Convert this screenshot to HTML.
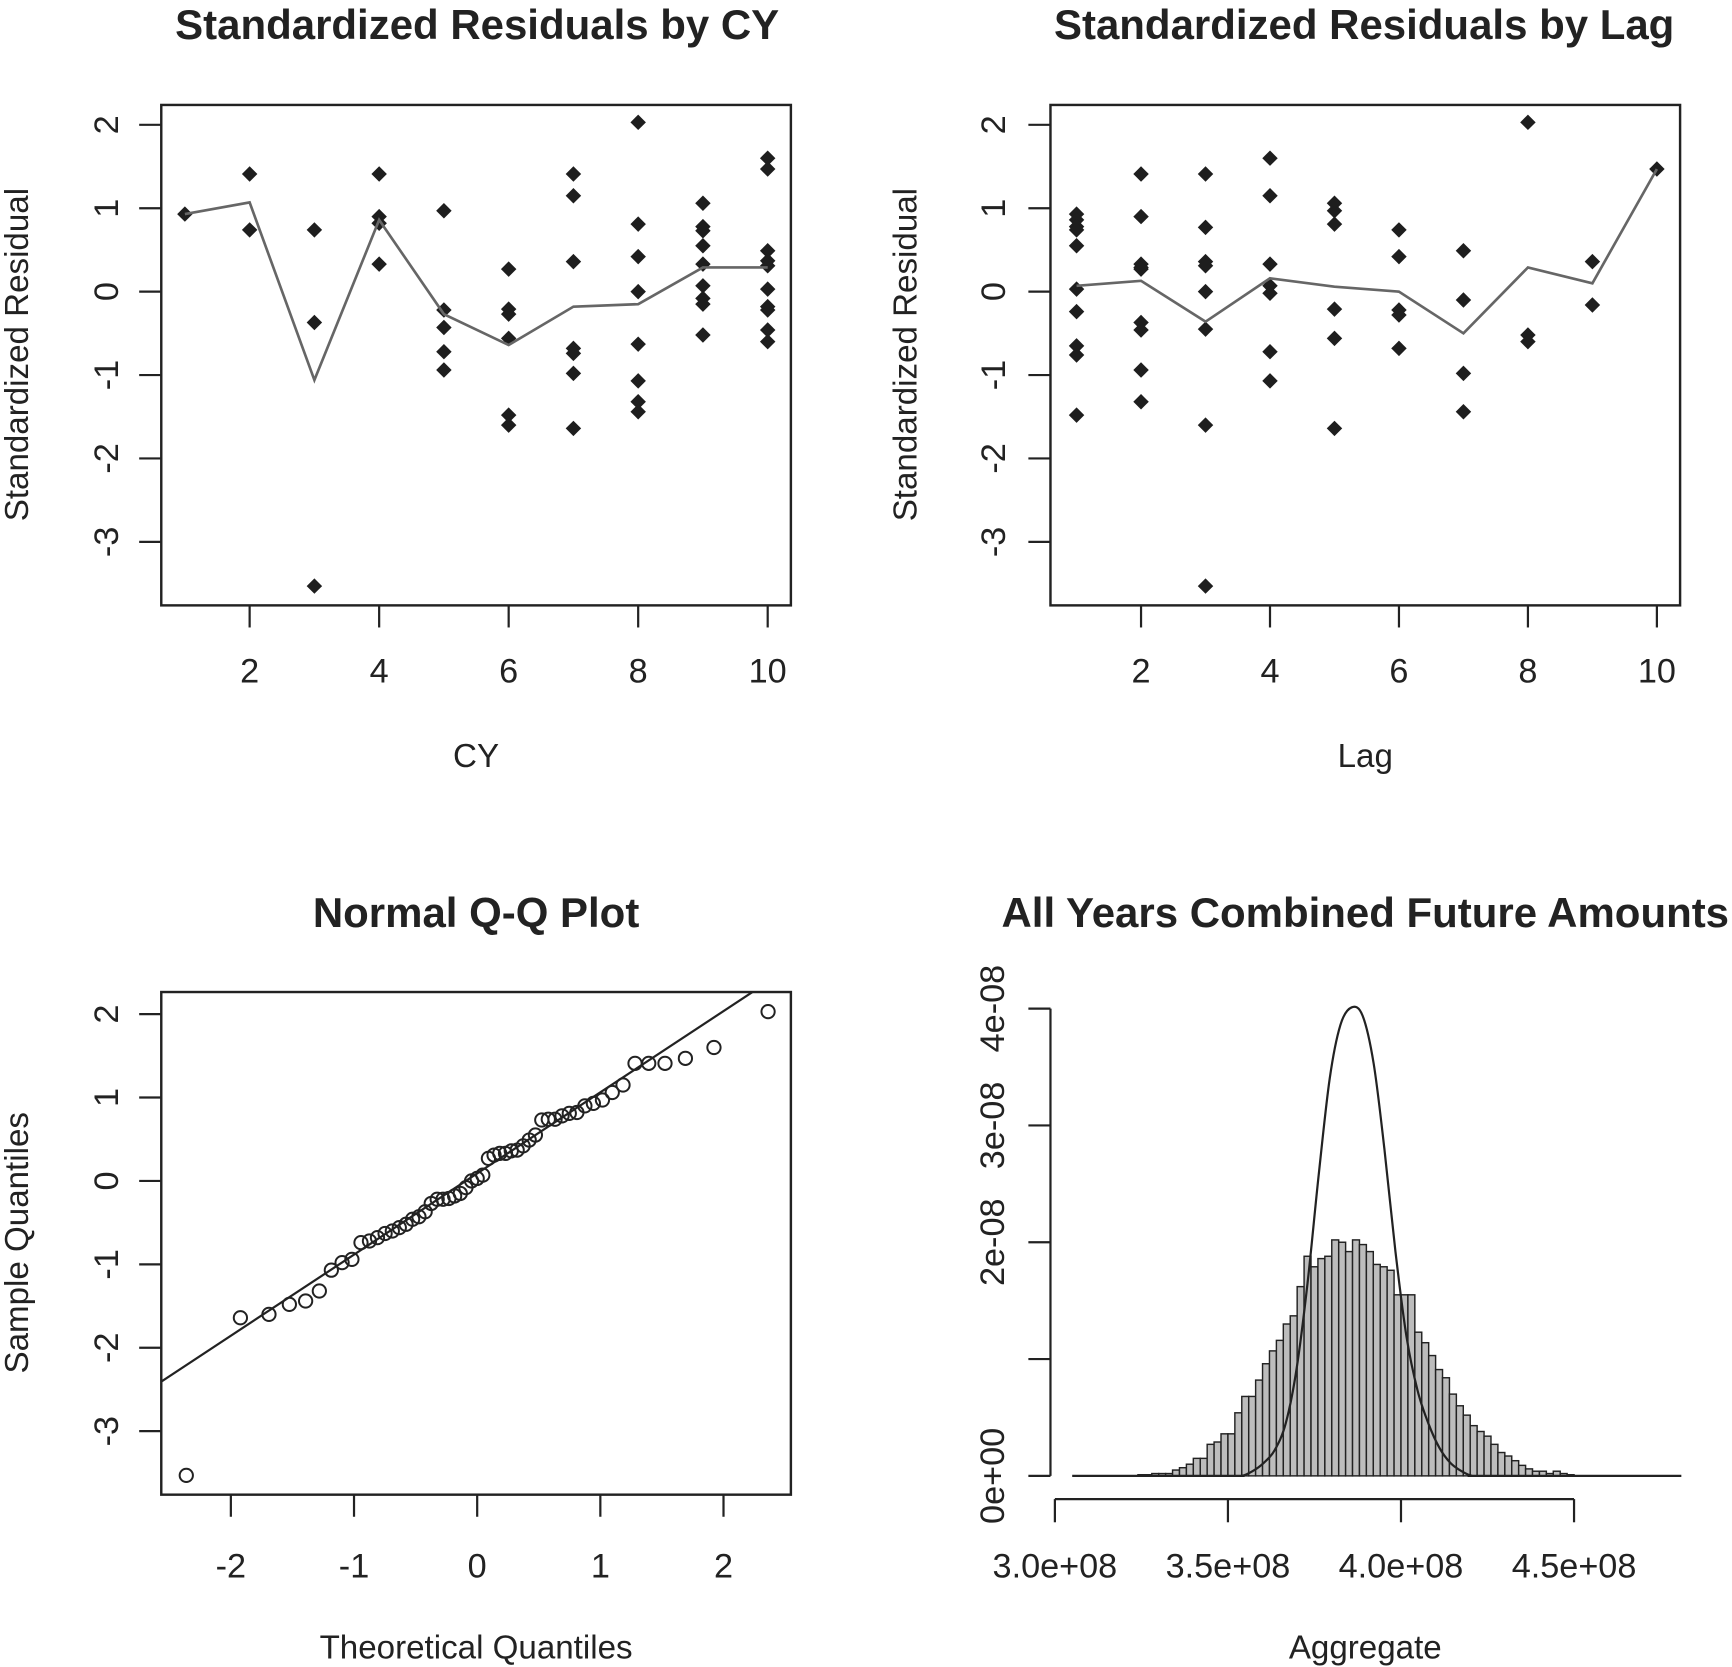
<!DOCTYPE html>
<html><head><meta charset="utf-8"><style>
html,body{margin:0;padding:0;background:#fff;}
svg{display:block;}
text{font-family:"Liberation Sans",Arial,sans-serif;fill:#222;}
.t{font-size:38px;font-weight:bold;}
.tick{font-size:31px;}
.lab{font-size:30px;}
</style></head><body>
<svg id="fig" width="1732" height="1667" viewBox="0 0 1568 1509" preserveAspectRatio="none" xmlns="http://www.w3.org/2000/svg"></svg>
<script>
// ---- data ----
const cyCats = [1,2,3,4,5,6,7,8,9,10];
const cyResid = [
 [0.93],
 [1.41,0.74],
 [0.74,-0.37,-3.53],
 [1.41,0.90,0.82,0.33],
 [0.97,-0.22,-0.43,-0.72,-0.94],
 [0.27,-0.21,-0.27,-0.56,-1.48,-1.60],
 [1.41,1.15,0.36,-0.68,-0.74,-0.98,-1.64],
 [2.03,0.81,0.42,0.00,-0.63,-1.07,-1.32,-1.44],
 [1.06,0.78,0.73,0.55,0.33,0.07,-0.08,-0.15,-0.52],
 [1.60,1.47,0.49,0.37,0.31,0.03,-0.18,-0.22,-0.46,-0.60]
];
const cyMean = [0.93,1.07,-1.06,0.86,-0.27,-0.64,-0.18,-0.15,0.29,0.29];
const lagCats = [1,2,3,4,5,6,7,8,9,10];
const lagResid = [
 [0.93,0.86,0.78,0.74,0.55,0.03,-0.24,-0.65,-0.76,-1.48],
 [1.41,0.90,0.33,0.29,0.27,-0.37,-0.46,-0.94,-1.32],
 [1.41,0.77,0.36,0.31,0.00,-0.45,-1.60,-3.53],
 [1.60,1.15,0.33,0.07,-0.02,-0.72,-1.07],
 [1.06,0.97,0.81,-0.21,-0.56,-1.64],
 [0.74,0.42,-0.22,-0.28,-0.68],
 [0.49,-0.10,-0.98,-1.44],
 [2.03,-0.52,-0.60],
 [0.36,-0.16],
 [1.47]
];
const lagMean = [0.07,0.13,-0.36,0.16,0.06,0.00,-0.50,0.29,0.10,1.47];
const residTicks = [-3,-2,-1,0,1,2];
const xTicks = [2,4,6,8,10];
const qqTicksX = [-2,-1,0,1,2];
const qqLine = {intercept:0.09, slope:0.973};
// histogram (x in 1e8, density in 1e-9)
const histStart = 3.24;
const histBinWidth = 0.02;
const histDensity = [0.1,0.1,0.2,0.2,0.2,0.5,0.7,1.0,1.5,1.5,2.7,2.9,3.6,3.6,5.4,6.8,6.8,8.2,9.6,10.7,11.6,13.0,13.7,16.2,18.8,17.9,18.6,18.8,20.2,20.0,19.2,20.2,19.8,19.2,18.1,17.9,17.6,15.5,15.5,15.5,12.3,11.4,10.3,9.1,8.4,7.0,6.0,5.2,4.3,3.8,3.4,2.7,2.0,1.7,1.3,0.9,0.6,0.4,0.4,0.2,0.4,0.2,0.1];
const curveX = [3.05,3.50,3.540,3.571,3.603,3.635,3.667,3.698,3.730,3.762,3.794,3.825,3.857,3.889,3.921,3.952,3.984,4.016,4.048,4.079,4.111,4.143,4.175,4.206,4.25,4.81];
const curveY = [0,0,0,0.4,1.1,2.2,4.5,9.1,16.5,25.7,34,38.6,40.1,39.4,35.3,28,19.2,11.9,7.3,4.5,2.4,1.1,0.4,0,0,0];
const histXTicks = [3.0,3.5,4.0,4.5];
const histXLabels = ["3.0e+08","3.5e+08","4.0e+08","4.5e+08"];
const histYTicks = [0,10,20,30,40];
const histYLabels = ["0e+00","","2e-08","3e-08","4e-08"];

// ---- helpers ----
const svg = document.getElementById('fig');
const NS = 'http://www.w3.org/2000/svg';
function mk(tag, attrs, parent){
  const e = document.createElementNS(NS, tag);
  for (const k in attrs) e.setAttribute(k, attrs[k]);
  (parent||svg).appendChild(e);
  return e;
}
function txt(s, x, y, cls, rot, parent){
  const e = mk('text', {x:x, y:y, class:cls, 'text-anchor':'middle', 'dominant-baseline':'central'}, parent);
  if (rot) e.setAttribute('transform', 'rotate(-90 '+x+' '+y+')');
  e.textContent = s;
  return e;
}
function lin(d0,d1,r0,r1){ return v => r0 + (v-d0)/(d1-d0)*(r1-r0); }
function diamond(g, x, y){
  const s = 7;
  const p = mk('polygon', {points:`${x},${y-s} ${x+s},${y} ${x},${y+s} ${x-s},${y}`, fill:'#1e1e1e'}, g);
  
  
}

function residPanel(name, L, R, labelX, titleX, ylabX, xDom, cats, resid, means, title, xlab){
  const g = mk('g', {});
  
  
  const T = 95, B = 548;
  const xs = lin(xDom[0], xDom[1], xDom[2], xDom[3]);
  const ys = lin(0, 2, 264, 113);
  const t = txt(title, titleX, 22, 't', false, g);
  
  
  const box = mk('rect', {x:L, y:T, width:R-L, height:B-T, fill:'none', stroke:'#222', 'stroke-width':2.2}, g);
  
  
  for (let k = 0; k < residTicks.length; k++) {
    const v = residTicks[k];
    mk('line', {x1:L-20, x2:L, y1:ys(v), y2:ys(v), stroke:'#222', 'stroke-width':2}, g);
    const tl = txt(String(v), labelX, ys(v), 'tick', true, g);
    
    
  }
  xTicks.forEach(v => {
    mk('line', {x1:xs(v), x2:xs(v), y1:B, y2:B+20, stroke:'#222', 'stroke-width':2}, g);
    const tl = txt(String(v), xs(v), 608, 'tick', false, g);
    
    
  });
  const xl = txt(xlab, (L+R)/2, 685, 'lab', false, g);
  
  
  const yl = txt('Standardized Residual', ylabX, 321, 'lab', true, g);
  
  
  cats.forEach((c,i) => resid[i].forEach(v => diamond(g, xs(c), ys(v))));
  const pts = cats.map((c,i) => xs(c)+','+ys(means[i])).join(' ');
  const pl = mk('polyline', {points:pts, fill:'none', stroke:'#666', 'stroke-width':2.4}, g);
  
  
}
residPanel('cy-residual-plot', 146, 716, 97, 432, 16, [2,10,226,695], cyCats, cyResid, cyMean, 'Standardized Residuals by CY', 'CY');
residPanel('lag-residual-plot', 951, 1521, 900, 1235, 820, [2,10,1033,1500], lagCats, lagResid, lagMean, 'Standardized Residuals by Lag', 'Lag');

// ---- QQ plot ----
(function(){
  const g = mk('g', {});
  
  
  const L=146, R=716, T=898, B=1353;
  const xs = lin(0, 2, 432, 655);
  const ys = lin(0, 2, 1069, 918);
  const t = txt('Normal Q-Q Plot', 431, 826, 't', false, g);
  
  
  const box = mk('rect', {x:L, y:T, width:R-L, height:B-T, fill:'none', stroke:'#222', 'stroke-width':2.2}, g);
  
  
  residTicks.forEach(v => {
    mk('line', {x1:L-20, x2:L, y1:ys(v), y2:ys(v), stroke:'#222', 'stroke-width':2}, g);
    const tl = txt(String(v), 97, ys(v), 'tick', true, g);
    
    
  });
  qqTicksX.forEach(v => {
    mk('line', {x1:xs(v), x2:xs(v), y1:B, y2:B+20, stroke:'#222', 'stroke-width':2}, g);
    const tl = txt(String(v), xs(v), 1418, 'tick', false, g);
    
    
  });
  const xl = txt('Theoretical Quantiles', 431, 1492, 'lab', false, g);
  
  
  const yl = txt('Sample Quantiles', 16, 1125, 'lab', true, g);
  
  
  const cp = mk('clipPath', {id:'qqclip'}, g);
  mk('rect', {x:L, y:T, width:R-L, height:B-T}, cp);
  const x0 = -3, x1 = 3;
  const ql = mk('line', {x1:xs(x0), y1:ys(qqLine.intercept+qqLine.slope*x0), x2:xs(x1), y2:ys(qqLine.intercept+qqLine.slope*x1), stroke:'#222', 'stroke-width':2, 'clip-path':'url(#qqclip)'}, g);
  
  
  const sample = [].concat(...cyResid).sort((a,b)=>a-b);
  const n = sample.length;
  function qnorm(p){
    const a=[-3.969683028665376e+01,2.209460984245205e+02,-2.759285104469687e+02,1.383577518672690e+02,-3.066479806614716e+01,2.506628277459239e+00];
    const b=[-5.447609879822406e+01,1.615858368580409e+02,-1.556989798598866e+02,6.680131188771972e+01,-1.328068155288572e+01];
    const c=[-7.784894002430293e-03,-3.223964580411365e-01,-2.400758277161838e+00,-2.549732539343734e+00,4.374664141464968e+00,2.938163982698783e+00];
    const d=[7.784695709041462e-03,3.224671290700398e-01,2.445134137142996e+00,3.754408661907416e+00];
    const pl=0.02425;
    if(p<pl){const q=Math.sqrt(-2*Math.log(p));return (((((c[0]*q+c[1])*q+c[2])*q+c[3])*q+c[4])*q+c[5])/((((d[0]*q+d[1])*q+d[2])*q+d[3])*q+1);}
    if(p>1-pl){const q=Math.sqrt(-2*Math.log(1-p));return -(((((c[0]*q+c[1])*q+c[2])*q+c[3])*q+c[4])*q+c[5])/((((d[0]*q+d[1])*q+d[2])*q+d[3])*q+1);}
    const q=p-0.5, r=q*q;
    return (((((a[0]*r+a[1])*r+a[2])*r+a[3])*r+a[4])*r+a[5])*q/(((((b[0]*r+b[1])*r+b[2])*r+b[3])*r+b[4])*r+1);
  }
  sample.forEach((v,i) => {
    const th = qnorm((i+0.5)/n);
    const c = mk('circle', {cx:xs(th), cy:ys(v), r:6, fill:'none', stroke:'#222', 'stroke-width':1.8}, g);
    
    
  });
})();

// ---- histogram ----
(function(){
  const g = mk('g', {});
  
  
  const xs = lin(3.0, 4.5, 955, 1425);
  const ys = lin(0, 40, 1336, 913);
  const t = txt('All Years Combined Future Amounts', 1236, 826, 't', false, g);
  
  
  histDensity.forEach((v,i) => {
    const x0 = xs(histStart + i*histBinWidth), x1 = xs(histStart + (i+1)*histBinWidth);
    const r = mk('rect', {x:x0, y:ys(v), width:x1-x0, height:ys(0)-ys(v), fill:'#bdbdbd', stroke:'#222', 'stroke-width':1.3}, g);
    
    
  });
  // smooth curve (Catmull-Rom) through the sampled points
  const P = curveX.map((x,i) => [xs(x), ys(curveY[i])]);
  let d = 'M' + P[0][0] + ',' + P[0][1];
  for (let i = 0; i < P.length-1; i++) {
    const p0 = P[Math.max(i-1,0)], p1 = P[i], p2 = P[i+1], p3 = P[Math.min(i+2,P.length-1)];
    const c1 = [p1[0]+(p2[0]-p0[0])/6, p1[1]+(p2[1]-p0[1])/6];
    const c2 = [p2[0]-(p3[0]-p1[0])/6, p2[1]-(p3[1]-p1[1])/6];
    d += ' C' + c1[0] + ',' + Math.min(c1[1], ys(0)) + ' ' + c2[0] + ',' + Math.min(c2[1], ys(0)) + ' ' + p2[0] + ',' + p2[1];
  }
  const pl = mk('path', {d:d, fill:'none', stroke:'#222', 'stroke-width':2, 'stroke-linejoin':'round'}, g);
  
  
  const ya = mk('line', {x1:951, x2:951, y1:ys(40), y2:ys(0), stroke:'#222', 'stroke-width':2}, g);
  
  
  histYTicks.forEach((v,i) => {
    mk('line', {x1:931, x2:951, y1:ys(v), y2:ys(v), stroke:'#222', 'stroke-width':2}, g);
    if (histYLabels[i]) {
      const tl = txt(histYLabels[i], 899, ys(v), 'tick', true, g);
      
      
    }
  });
  const xa = mk('line', {x1:xs(3.0), x2:xs(4.5), y1:1357, y2:1357, stroke:'#222', 'stroke-width':2}, g);
  
  
  histXTicks.forEach((v,i) => {
    mk('line', {x1:xs(v), x2:xs(v), y1:1357, y2:1378, stroke:'#222', 'stroke-width':2}, g);
    const tl = txt(histXLabels[i], xs(v), 1418, 'tick', false, g);
    
    
  });
  const xl = txt('Aggregate', 1236, 1492, 'lab', false, g);
  
  
})();
</script>
</body></html>
